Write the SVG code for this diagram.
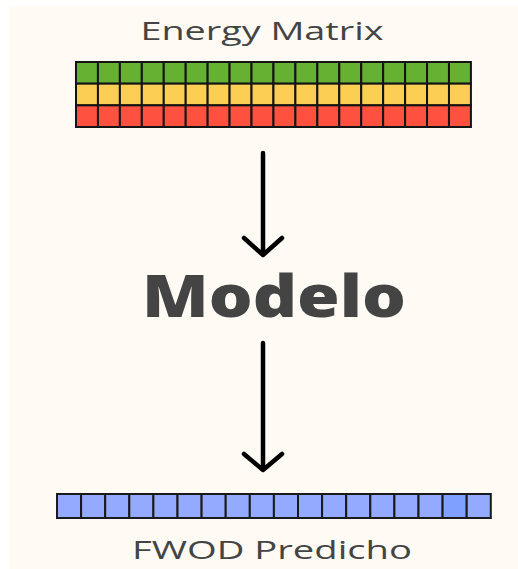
<svg xmlns="http://www.w3.org/2000/svg" width="518" height="569" viewBox="0 0 518 569">
<defs>
<style>
.lbl{font-family:"Open Sans","Liberation Sans",sans-serif;fill:#444;font-size:25px;text-anchor:middle}
.big{font-family:"Open Sans","Liberation Sans",sans-serif;fill:#444;font-size:58px;font-weight:800;text-anchor:middle}
.g{fill:#66b032;stroke:#141414;stroke-width:2}
.y{fill:#fdce54;stroke:#141414;stroke-width:2}
.r{fill:#fe5140;stroke:#141414;stroke-width:2}
.b{fill:#93aaff;stroke:#1a1a1a;stroke-width:2}
.bd{fill:#7fa0ff;stroke:#1a1a1a;stroke-width:2}
.arr{stroke:#000;stroke-width:4.5;fill:none;stroke-linecap:round;stroke-linejoin:round}
</style>
</defs>
<rect x="0" y="0" width="518" height="569" fill="#ffffff"/>
<rect x="9" y="6" width="509" height="563" fill="#fffaf4"/>
<g id="title"><text class="lbl" x="262" y="40" textLength="243" lengthAdjust="spacingAndGlyphs">Energy Matrix</text></g>
<g id="energy-matrix">
<g id="row-green">
<rect class="g" x="76" y="62" width="21.94" height="21.67"/><rect class="g" x="97.94" y="62" width="21.94" height="21.67"/><rect class="g" x="119.88" y="62" width="21.94" height="21.67"/><rect class="g" x="141.82" y="62" width="21.94" height="21.67"/><rect class="g" x="163.76" y="62" width="21.94" height="21.67"/><rect class="g" x="185.7" y="62" width="21.94" height="21.67"/><rect class="g" x="207.64" y="62" width="21.94" height="21.67"/><rect class="g" x="229.58" y="62" width="21.94" height="21.67"/><rect class="g" x="251.52" y="62" width="21.94" height="21.67"/><rect class="g" x="273.46" y="62" width="21.94" height="21.67"/><rect class="g" x="295.4" y="62" width="21.94" height="21.67"/><rect class="g" x="317.34" y="62" width="21.94" height="21.67"/><rect class="g" x="339.28" y="62" width="21.94" height="21.67"/><rect class="g" x="361.22" y="62" width="21.94" height="21.67"/><rect class="g" x="383.16" y="62" width="21.94" height="21.67"/><rect class="g" x="405.1" y="62" width="21.94" height="21.67"/><rect class="g" x="427.04" y="62" width="21.94" height="21.67"/><rect class="g" x="448.98" y="62" width="21.94" height="21.67"/>
</g>
<g id="row-yellow">
<rect class="y" x="76" y="83.67" width="21.94" height="21.67"/><rect class="y" x="97.94" y="83.67" width="21.94" height="21.67"/><rect class="y" x="119.88" y="83.67" width="21.94" height="21.67"/><rect class="y" x="141.82" y="83.67" width="21.94" height="21.67"/><rect class="y" x="163.76" y="83.67" width="21.94" height="21.67"/><rect class="y" x="185.7" y="83.67" width="21.94" height="21.67"/><rect class="y" x="207.64" y="83.67" width="21.94" height="21.67"/><rect class="y" x="229.58" y="83.67" width="21.94" height="21.67"/><rect class="y" x="251.52" y="83.67" width="21.94" height="21.67"/><rect class="y" x="273.46" y="83.67" width="21.94" height="21.67"/><rect class="y" x="295.4" y="83.67" width="21.94" height="21.67"/><rect class="y" x="317.34" y="83.67" width="21.94" height="21.67"/><rect class="y" x="339.28" y="83.67" width="21.94" height="21.67"/><rect class="y" x="361.22" y="83.67" width="21.94" height="21.67"/><rect class="y" x="383.16" y="83.67" width="21.94" height="21.67"/><rect class="y" x="405.1" y="83.67" width="21.94" height="21.67"/><rect class="y" x="427.04" y="83.67" width="21.94" height="21.67"/><rect class="y" x="448.98" y="83.67" width="21.94" height="21.67"/>
</g>
<g id="row-red">
<rect class="r" x="76" y="105.33" width="21.94" height="21.67"/><rect class="r" x="97.94" y="105.33" width="21.94" height="21.67"/><rect class="r" x="119.88" y="105.33" width="21.94" height="21.67"/><rect class="r" x="141.82" y="105.33" width="21.94" height="21.67"/><rect class="r" x="163.76" y="105.33" width="21.94" height="21.67"/><rect class="r" x="185.7" y="105.33" width="21.94" height="21.67"/><rect class="r" x="207.64" y="105.33" width="21.94" height="21.67"/><rect class="r" x="229.58" y="105.33" width="21.94" height="21.67"/><rect class="r" x="251.52" y="105.33" width="21.94" height="21.67"/><rect class="r" x="273.46" y="105.33" width="21.94" height="21.67"/><rect class="r" x="295.4" y="105.33" width="21.94" height="21.67"/><rect class="r" x="317.34" y="105.33" width="21.94" height="21.67"/><rect class="r" x="339.28" y="105.33" width="21.94" height="21.67"/><rect class="r" x="361.22" y="105.33" width="21.94" height="21.67"/><rect class="r" x="383.16" y="105.33" width="21.94" height="21.67"/><rect class="r" x="405.1" y="105.33" width="21.94" height="21.67"/><rect class="r" x="427.04" y="105.33" width="21.94" height="21.67"/><rect class="r" x="448.98" y="105.33" width="21.94" height="21.67"/>
</g>
</g>
<g id="modelo"><text class="big" x="274" y="317" textLength="264" lengthAdjust="spacingAndGlyphs">Modelo</text></g>
<g id="connectors">
<path class="arr" d="M263 153 V255 M244 238 L263 255 L282 238"/>
<path class="arr" d="M263 343 V470 M244 454 L263 470 L282 454"/>
</g>
<g id="fwod">
<rect class="b" x="57" y="494" width="24.1" height="24"/><rect class="b" x="81.1" y="494" width="24.1" height="24"/><rect class="b" x="105.2" y="494" width="24.1" height="24"/><rect class="b" x="129.3" y="494" width="24.1" height="24"/><rect class="b" x="153.4" y="494" width="24.1" height="24"/><rect class="b" x="177.5" y="494" width="24.1" height="24"/><rect class="b" x="201.6" y="494" width="24.1" height="24"/><rect class="b" x="225.7" y="494" width="24.1" height="24"/><rect class="b" x="249.8" y="494" width="24.1" height="24"/><rect class="b" x="273.9" y="494" width="24.1" height="24"/><rect class="b" x="298" y="494" width="24.1" height="24"/><rect class="b" x="322.1" y="494" width="24.1" height="24"/><rect class="b" x="346.2" y="494" width="24.1" height="24"/><rect class="b" x="370.3" y="494" width="24.1" height="24"/><rect class="b" x="394.4" y="494" width="24.1" height="24"/><rect class="b" x="418.5" y="494" width="24.1" height="24"/><rect class="bd" x="442.6" y="494" width="24.1" height="24"/><rect class="b" x="466.7" y="494" width="24.1" height="24"/>
</g>
<g id="fwod-label"><text class="lbl" x="272" y="559" textLength="280" lengthAdjust="spacingAndGlyphs">FWOD Predicho</text></g>
</svg>
